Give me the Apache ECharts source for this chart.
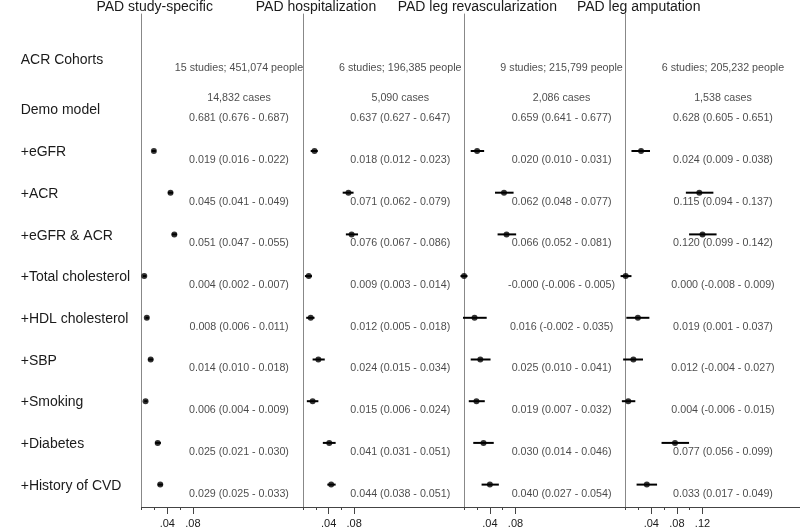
<!DOCTYPE html>
<html>
<head>
<meta charset="utf-8">
<script src="https://cdn.jsdelivr.net/npm/echarts@6/dist/echarts.min.js"></script>
<style>html,body{margin:0;padding:0;background:#fff}#chart{width:800px;height:527px}</style>
</head>
<body>
<div id="chart"></div>
<script>
const panelTitles = ['PAD study-specific', 'PAD hospitalization', 'PAD leg revascularization', 'PAD leg amputation'];
const rowLabels = ['+eGFR', '+ACR', '+eGFR & ACR', '+Total cholesterol', '+HDL cholesterol', '+SBP', '+Smoking', '+Diabetes', '+History of CVD'];

const studies = [15, 6, 9, 6];
const people = [451074, 196385, 215799, 205232];
const cases = [14832, 5090, 2086, 1538];
const demoEst = [0.681, 0.637, 0.659, 0.628];
const demoLo = [0.676, 0.627, 0.641, 0.605];
const demoHi = [0.687, 0.647, 0.677, 0.651];

// change in c-statistic per added variable, one array per panel
const est1 = [0.019, 0.045, 0.051, 0.004, 0.008, 0.014, 0.006, 0.025, 0.029];
const lo1  = [0.016, 0.041, 0.047, 0.002, 0.006, 0.010, 0.004, 0.021, 0.025];
const hi1  = [0.022, 0.049, 0.055, 0.007, 0.011, 0.018, 0.009, 0.030, 0.033];

const est2 = [0.018, 0.071, 0.076, 0.009, 0.012, 0.024, 0.015, 0.041, 0.044];
const lo2  = [0.012, 0.062, 0.067, 0.003, 0.005, 0.015, 0.006, 0.031, 0.038];
const hi2  = [0.023, 0.079, 0.086, 0.014, 0.018, 0.034, 0.024, 0.051, 0.051];

const est3 = [0.020, 0.062, 0.066, -0.0004, 0.016, 0.025, 0.019, 0.030, 0.040];
const lo3  = [0.010, 0.048, 0.052, -0.006, -0.002, 0.010, 0.007, 0.014, 0.027];
const hi3  = [0.031, 0.077, 0.081, 0.005, 0.035, 0.041, 0.032, 0.046, 0.054];

const est4 = [0.024, 0.115, 0.120, 0.000, 0.019, 0.012, 0.004, 0.077, 0.033];
const lo4  = [0.009, 0.094, 0.099, -0.008, 0.001, -0.004, -0.006, 0.056, 0.017];
const hi4  = [0.038, 0.137, 0.142, 0.009, 0.037, 0.027, 0.015, 0.099, 0.049];

const ests = [est1, est2, est3, est4];
const los = [lo1, lo2, lo3, lo4];
const his = [hi1, hi2, hi3, hi4];

const shortTicks = [[0, 0.02, 0.06], [0, 0.02, 0.06], [0, 0.02, 0.06], [0, 0.02, 0.06, 0.10]];
const longTicks = [[0.04, 0.08], [0.04, 0.08], [0.04, 0.08], [0.04, 0.08, 0.12]];

const FONT = 'Liberation Sans, Arial, sans-serif';
const TXT = '#1a1a1a';
const f3 = v => v.toFixed(3);
const ciText = (e, l, h) => f3(e) + ' (' + f3(l) + ' - ' + f3(h) + ')';

const panelLeft = [141.7, 303, 464.3, 625.7];
const pxPerUnit = 640;
const textX = 0.152;

const grids = [], xAxes = [], yAxes = [], series = [], titles = [];
for (let p = 0; p < 4; p++) {
  const right = p < 3 ? panelLeft[p + 1] : 800;
  grids.push({ left: panelLeft[p], width: right - panelLeft[p], top: 14, bottom: 20, outerBoundsMode: 'none', containLabel: false });
  const xmax = (right - panelLeft[p]) / pxPerUnit;
  xAxes.push({
    gridIndex: p, type: 'value', min: 0, max: xmax, position: 'bottom',
    axisLine: { show: true, onZero: false, lineStyle: { color: '#444', width: 1 } },
    axisTick: { show: true, length: 3, customValues: shortTicks[p], lineStyle: { color: '#444' } },
    axisLabel: { show: false }, splitLine: { show: false }
  });
  xAxes.push({
    gridIndex: p, type: 'value', min: 0, max: xmax, position: 'bottom',
    axisLine: { show: false, onZero: false },
    axisTick: { show: true, length: 7, customValues: longTicks[p], lineStyle: { color: '#444' } },
    axisLabel: {
      show: true, customValues: longTicks[p], fontSize: 11, fontFamily: FONT, color: TXT, margin: 11,
      formatter: v => v.toFixed(2).replace(/^0/, '')
    },
    splitLine: { show: false }
  });
  yAxes.push({
    gridIndex: p, type: 'value', inverse: true, min: -2.285, max: 9.537,
    axisLine: { show: true, onZero: false, lineStyle: { color: '#888', width: 1 } },
    axisTick: { show: false }, splitLine: { show: false },
    axisLabel: p === 0 ? {
      show: true, customValues: [-1.18, 0.03, 1.03, 2.03, 3.03, 4.03, 5.03, 6.03, 7.03, 8.03, 9.03],
      align: 'left', margin: 121, fontSize: 14, fontFamily: FONT, color: TXT,
      formatter: v => {
        const i = Math.round(v - 0.03);
        if (v < -1) return 'ACR Cohorts';
        if (i === 0) return 'Demo model';
        return rowLabels[i - 1] || '';
      }
    } : { show: false }
  });

  titles.push({
    text: panelTitles[p], left: panelLeft[p] + 13, top: 0, padding: 0, textAlign: 'center',
    textStyle: { fontSize: 14, fontWeight: 'normal', fontFamily: FONT, color: TXT }
  });

  const rows = rowLabels.map((_, i) => i + 1);
  const xi = p * 2, yi = p;

  series.push({
    type: 'custom', xAxisIndex: xi, yAxisIndex: yi, clip: false,
    data: rows.map((r, i) => [los[p][i], his[p][i], r]),
    renderItem: (params, api) => {
      const a = api.coord([api.value(0), api.value(2)]);
      const b = api.coord([api.value(1), api.value(2)]);
      return { type: 'line', shape: { x1: a[0], y1: a[1], x2: b[0], y2: b[1] }, style: { stroke: '#000', lineWidth: 2 } };
    },
    encode: { x: [0, 1], y: 2 }, silent: true
  });
  series.push({
    type: 'scatter', xAxisIndex: xi, yAxisIndex: yi, clip: false, symbolSize: 6,
    itemStyle: { color: '#000' },
    data: rows.map((r, i) => [ests[p][i], r]), silent: true
  });
  const texts = rows.map((r, i) => ({ value: [textX, r + 0.216], name: ciText(ests[p][i], los[p][i], his[p][i]) }));
  texts.push({ value: [textX, -0.985], name: studies[p] + ' studies; ' + people[p].toLocaleString('en-US') + ' people' });
  texts.push({ value: [textX, -0.27], name: cases[p].toLocaleString('en-US') + ' cases' });
  texts.push({ value: [textX, 0.216], name: ciText(demoEst[p], demoLo[p], demoHi[p]) });
  series.push({
    type: 'scatter', xAxisIndex: xi, yAxisIndex: yi, clip: false, symbolSize: 0, silent: true,
    data: texts,
    label: {
      show: true, position: 'inside', formatter: d => d.name,
      fontSize: 10.7, fontFamily: FONT, color: TXT, align: 'center', verticalAlign: 'middle'
    }
  });
}

const chart = echarts.init(document.getElementById('chart'));
chart.setOption({
  animation: false,
  backgroundColor: '#fff',
  title: titles,
  grid: grids,
  xAxis: xAxes,
  yAxis: yAxes,
  series: series
});
</script>
</body>
</html>
